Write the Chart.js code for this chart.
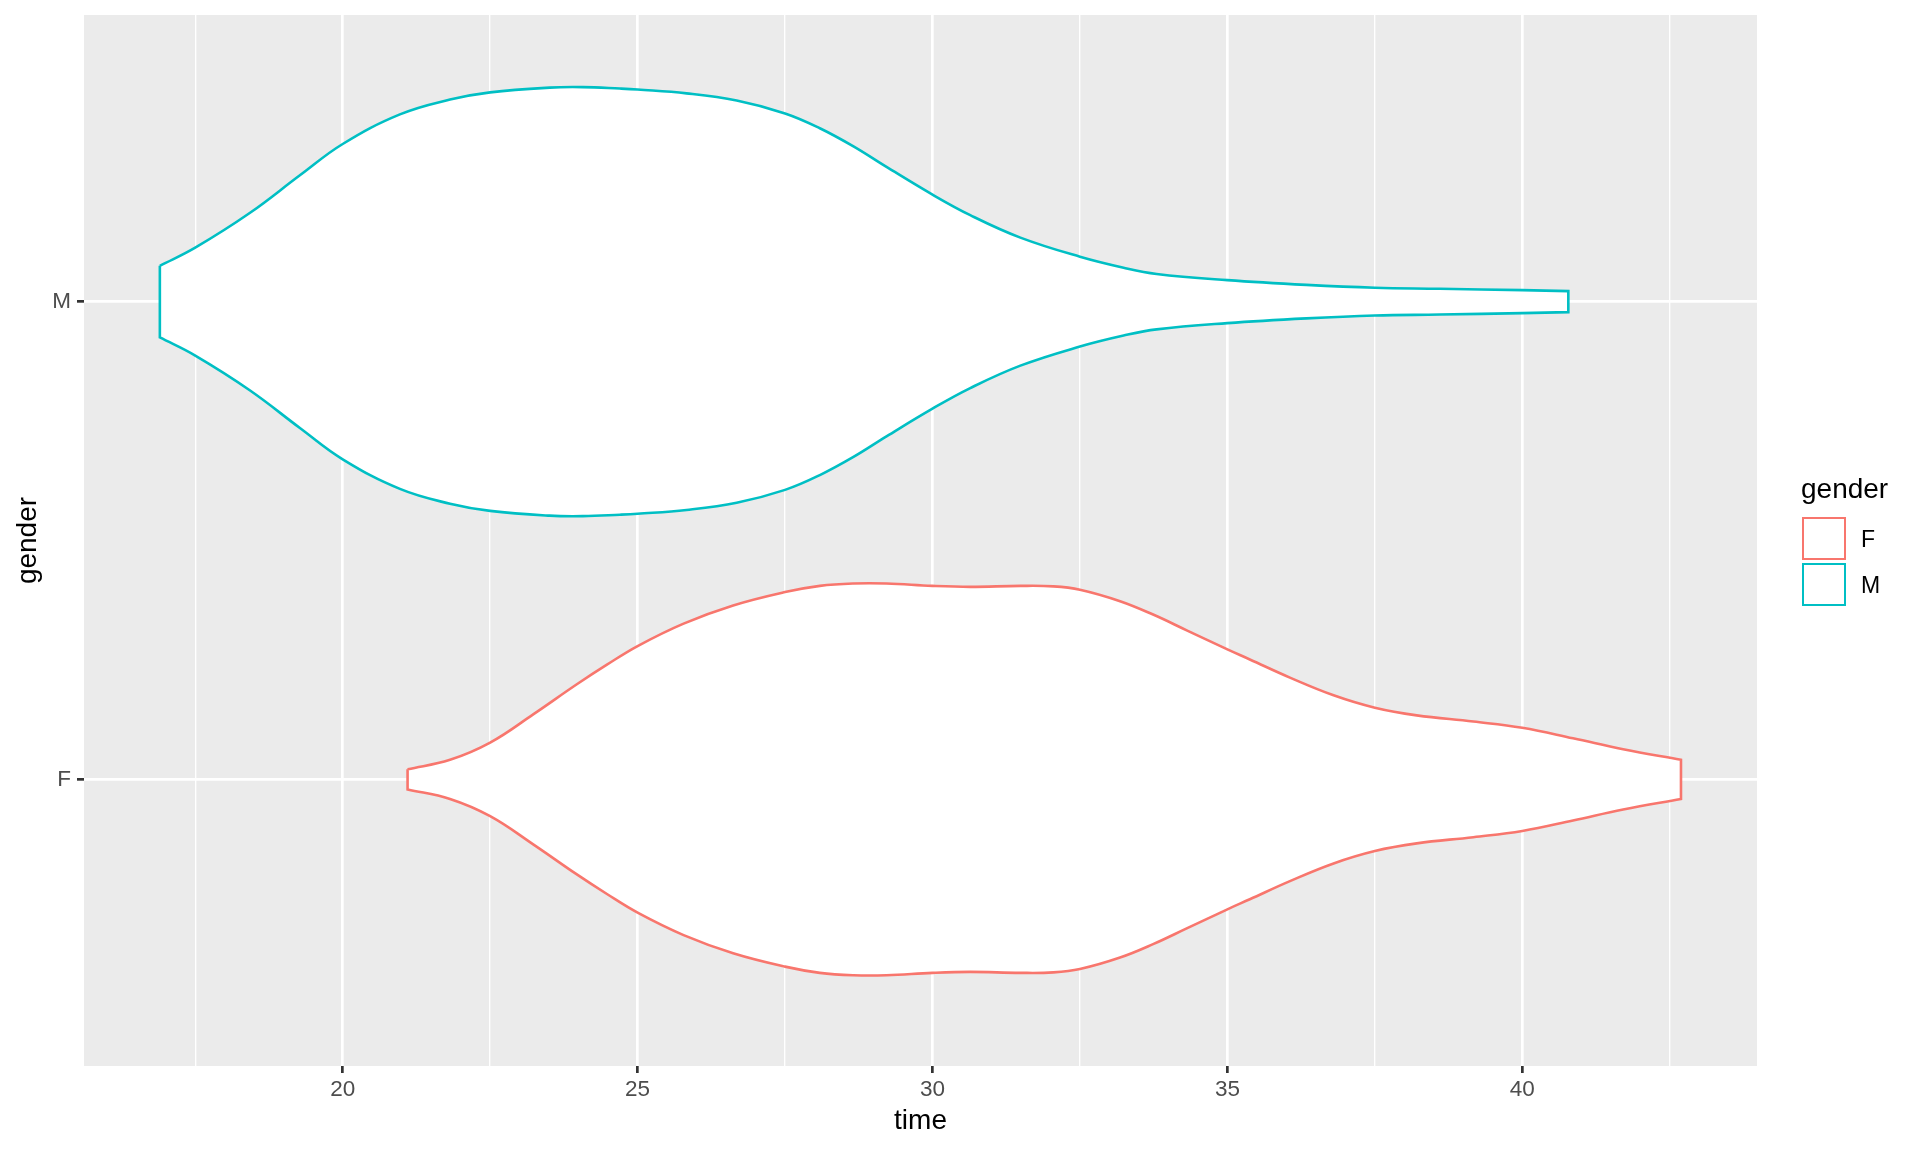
<!DOCTYPE html>
<html><head><meta charset="utf-8">
<script src="https://cdn.jsdelivr.net/npm/chart.js@4/dist/chart.umd.min.js"></script>
<style>
html,body{margin:0;padding:0;background:#fff;}
#wrap{position:relative;width:1920px;height:1152px;overflow:hidden;}
canvas{position:absolute;left:0;top:0;}
.lg{position:absolute;font-family:"Liberation Sans",Arial,Helvetica,sans-serif;color:#000;white-space:nowrap;}
.key{position:absolute;box-sizing:border-box;background:#fff;}
</style></head><body>
<div id="wrap">
<canvas id="c" width="1920" height="1152"></canvas>
</div>
<script>
// ---- data ----
const categories = ['F', 'M'];
const legendTitle = 'gender';
const xTitle = 'time';
const yTitle = 'gender';
const xTickValues = [20, 25, 30, 35, 40];
const xMinorValues = [17.5, 22.5, 27.5, 32.5, 37.5, 42.5];
const timeF = [21.10, 21.82, 22.50, 23.23, 23.97, 24.48, 25.00, 25.78, 26.62, 27.50, 28.09, 28.66, 29.22, 30.00, 30.64, 31.49, 32.05, 32.50, 33.18, 33.74, 34.31, 35.00, 35.38, 36.06, 36.80, 37.50, 38.21, 39.17, 40.00, 40.86, 41.71, 42.69];
const widthF = [0.021, 0.041, 0.077, 0.136, 0.199, 0.240, 0.279, 0.326, 0.364, 0.392, 0.405, 0.410, 0.410, 0.405, 0.403, 0.405, 0.404, 0.397, 0.373, 0.345, 0.312, 0.272, 0.251, 0.213, 0.176, 0.150, 0.134, 0.121, 0.108, 0.086, 0.063, 0.041];
const timeM = [16.90, 17.50, 18.43, 19.28, 20.00, 20.97, 21.82, 22.50, 23.51, 24.07, 24.70, 25.00, 25.83, 26.68, 27.50, 28.09, 28.66, 29.22, 30.00, 30.64, 31.49, 32.50, 33.24, 33.80, 35.00, 36.34, 37.50, 38.60, 40.00, 40.78];
const widthM = [0.075, 0.113, 0.186, 0.265, 0.330, 0.392, 0.423, 0.438, 0.448, 0.449, 0.446, 0.444, 0.436, 0.421, 0.394, 0.363, 0.325, 0.282, 0.224, 0.181, 0.134, 0.094, 0.071, 0.058, 0.045, 0.035, 0.029, 0.027, 0.024, 0.022];

// ---- styles ----
const colors = {F: '#F8766D', M: '#00BFC4'};
const FONT = '"Liberation Sans", Arial, Helvetica, sans-serif';

// closed outline: upper edge forward, lower edge back; end points repeated so the
// truncated ends stay straight vertical edges with sharp corners
function violin(times, widths, center) {
  const upper = times.map((t, i) => ({x: t, y: center + widths[i]}));
  const lower = times.map((t, i) => ({x: t, y: center - widths[i]})).reverse();
  const n = upper.length - 1;
  return upper.concat([upper[n]], [lower[0]], lower, [lower[n]], [upper[0]]);
}

const series = [
  {name: 'F', times: timeF, widths: widthF},
  {name: 'M', times: timeM, widths: widthM}
];

const datasets = series.map(s => ({
  label: s.name,
  data: violin(s.times, s.widths, categories.indexOf(s.name) + 1),
  showLine: true,
  borderColor: colors[s.name],
  borderWidth: 2.6,
  backgroundColor: '#FFFFFF',
  fill: 'shape',
  pointRadius: 0,
  pointHoverRadius: 0,
  tension: 0.4,
  borderJoinStyle: 'miter'
}));

const panelBg = {
  id: 'panelBg',
  beforeDraw(chart) {
    const {ctx, chartArea: a} = chart;
    ctx.save();
    ctx.fillStyle = '#EBEBEB';
    ctx.fillRect(a.left, a.top, a.right - a.left, a.bottom - a.top);
    ctx.restore();
  }
};

const isMajor = v => xTickValues.includes(v);

new Chart(document.getElementById('c'), {
  type: 'scatter',
  data: {datasets},
  plugins: [panelBg],
  options: {
    responsive: false,
    animation: false,
    events: [],
    layout: {padding: {left: 0, top: 15, right: 163, bottom: 0}},
    plugins: {legend: {display: false}, tooltip: {enabled: false}},
    scales: {
      x: {
        type: 'linear',
        min: 15.614, max: 43.979,
        afterBuildTicks: s => { s.ticks = xMinorValues.concat(xTickValues).sort((a, b) => a - b).map(v => ({value: v})); },
        afterFit: s => { s.height = 86; s.paddingLeft = 0; s.paddingRight = 0; },
        ticks: {
          autoSkip: false, maxRotation: 0, padding: 3.5,
          color: '#4D4D4D', font: {family: FONT, size: 22.5},
          callback: v => isMajor(v) ? String(v) : ''
        },
        grid: {
          color: '#FFFFFF',
          lineWidth: c => (c.tick && isMajor(c.tick.value)) ? 2.7 : 1.35,
          drawTicks: true, tickLength: 7,
          tickColor: c => (c.tick && isMajor(c.tick.value)) ? '#333333' : 'rgba(0,0,0,0)',
          tickWidth: 2.7
        },
        border: {display: false},
        title: {display: true, text: xTitle, color: '#000', font: {family: FONT, size: 28}, padding: {top: 0, bottom: 13.5}}
      },
      y: {
        type: 'linear',
        min: 0.4, max: 2.6,
        afterBuildTicks: s => { s.ticks = categories.map((c, i) => ({value: i + 1})); },
        afterFit: s => { s.width = 84; s.paddingTop = 0; s.paddingBottom = 0; },
        ticks: {
          autoSkip: false, padding: 6,
          color: '#4D4D4D', font: {family: FONT, size: 22.5},
          callback: v => categories[v - 1] || ''
        },
        grid: {
          color: '#FFFFFF', lineWidth: 2.7,
          drawTicks: true, tickLength: 7, tickColor: '#333333', tickWidth: 2.7
        },
        border: {display: false},
        title: {display: true, text: yTitle, color: '#000', font: {family: FONT, size: 28}, padding: {top: 11.5, bottom: 0}}
      }
    }
  }
});

// ---- legend (HTML text) ----
const wrap = document.getElementById('wrap');
const t = document.createElement('div');
t.className = 'lg';
t.textContent = legendTitle;
Object.assign(t.style, {left: '1801px', top: '475px', fontSize: '28px', lineHeight: '28px'});
wrap.appendChild(t);
categories.forEach((cat, i) => {
  const k = document.createElement('div');
  k.className = 'key';
  Object.assign(k.style, {left: '1802px', top: (517 + i * 46) + 'px', width: '44px', height: '43px', border: '2.6px solid ' + colors[cat]});
  wrap.appendChild(k);
  const l = document.createElement('div');
  l.className = 'lg';
  l.textContent = cat;
  Object.assign(l.style, {left: '1861px', top: (528 + i * 46) + 'px', fontSize: '23px', lineHeight: '23px'});
  wrap.appendChild(l);
});
</script>
</body></html>
